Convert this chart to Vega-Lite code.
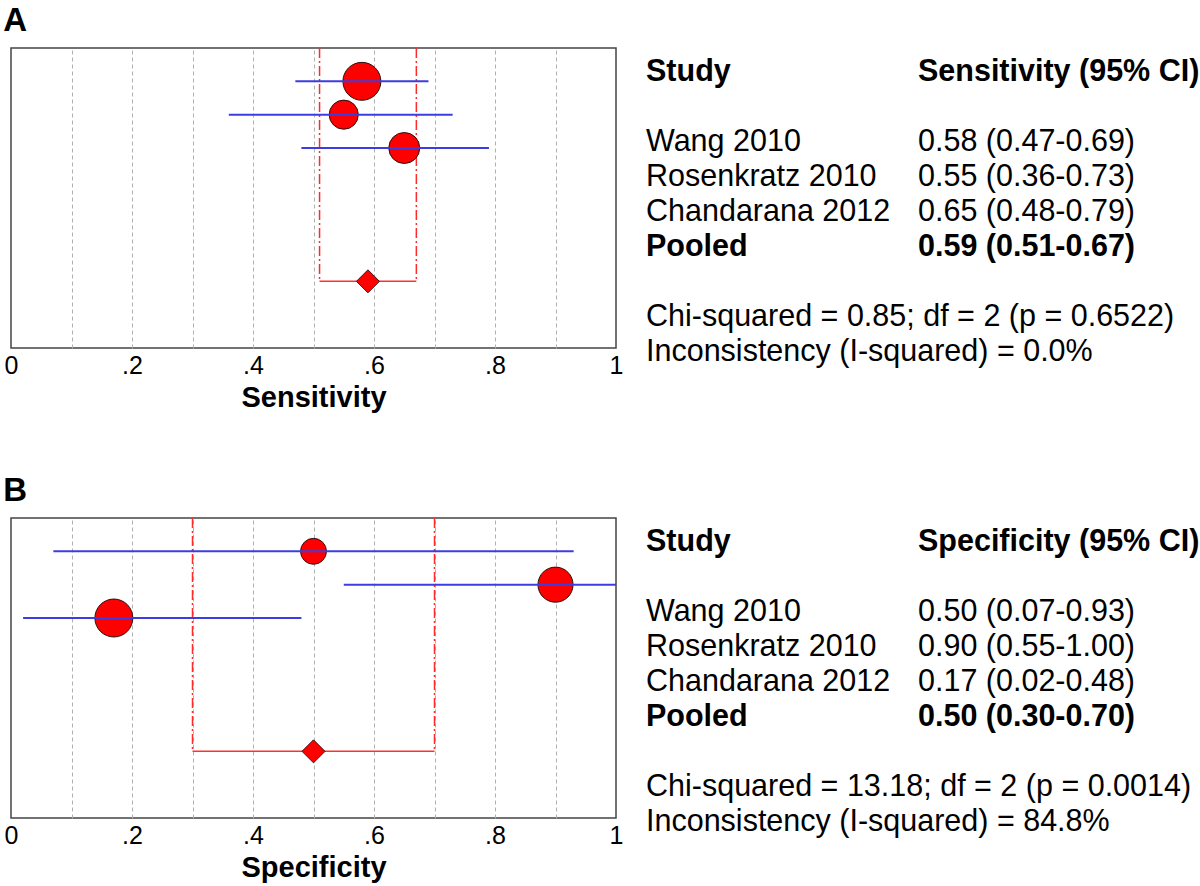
{
  "$schema": "https://vega.github.io/schema/vega-lite/v6.json",
  "background": "white",
  "padding": {"left": 3, "top": 4, "right": 2, "bottom": 1},
  "config": {
    "view": {"stroke": "#444444", "strokeWidth": 1.5},
    "font": "Liberation Sans"
  },
  "datasets": {
    "sens": [
      {"study": "Wang 2010", "row": 1, "est": 0.58, "lo": 0.47, "hi": 0.69, "weight": 90, "kind": "study"},
      {"study": "Rosenkratz 2010", "row": 2, "est": 0.55, "lo": 0.36, "hi": 0.73, "weight": 53, "kind": "study"},
      {"study": "Chandarana 2012", "row": 3, "est": 0.65, "lo": 0.48, "hi": 0.79, "weight": 60, "kind": "study"},
      {"study": "Pooled", "row": 7, "est": 0.59, "lo": 0.51, "hi": 0.67, "weight": null, "kind": "pooled"}
    ],
    "spec": [
      {"study": "Wang 2010", "row": 1, "est": 0.50, "lo": 0.07, "hi": 0.93, "weight": 42, "kind": "study"},
      {"study": "Rosenkratz 2010", "row": 2, "est": 0.90, "lo": 0.55, "hi": 1.00, "weight": 77, "kind": "study"},
      {"study": "Chandarana 2012", "row": 3, "est": 0.17, "lo": 0.02, "hi": 0.48, "weight": 90, "kind": "study"},
      {"study": "Pooled", "row": 7, "est": 0.50, "lo": 0.30, "hi": 0.70, "weight": null, "kind": "pooled"}
    ],
    "sensText": [
      {"row": "h", "col": "name", "label": "Study", "bold": true},
      {"row": "h", "col": "est", "label": "Sensitivity (95% CI)", "bold": true},
      {"row": "s1", "col": "name", "label": "Wang 2010", "bold": false},
      {"row": "s1", "col": "est", "label": "0.58 (0.47-0.69)", "bold": false},
      {"row": "s2", "col": "name", "label": "Rosenkratz 2010", "bold": false},
      {"row": "s2", "col": "est", "label": "0.55 (0.36-0.73)", "bold": false},
      {"row": "s3", "col": "name", "label": "Chandarana 2012", "bold": false},
      {"row": "s3", "col": "est", "label": "0.65 (0.48-0.79)", "bold": false},
      {"row": "p", "col": "name", "label": "Pooled", "bold": true},
      {"row": "p", "col": "est", "label": "0.59 (0.51-0.67)", "bold": true},
      {"row": "c1", "col": "name", "label": "Chi-squared = 0.85; df = 2 (p = 0.6522)", "bold": false},
      {"row": "c2", "col": "name", "label": "Inconsistency (I-squared) = 0.0%", "bold": false}
    ],
    "specText": [
      {"row": "h", "col": "name", "label": "Study", "bold": true},
      {"row": "h", "col": "est", "label": "Specificity (95% CI)", "bold": true},
      {"row": "s1", "col": "name", "label": "Wang 2010", "bold": false},
      {"row": "s1", "col": "est", "label": "0.50 (0.07-0.93)", "bold": false},
      {"row": "s2", "col": "name", "label": "Rosenkratz 2010", "bold": false},
      {"row": "s2", "col": "est", "label": "0.90 (0.55-1.00)", "bold": false},
      {"row": "s3", "col": "name", "label": "Chandarana 2012", "bold": false},
      {"row": "s3", "col": "est", "label": "0.17 (0.02-0.48)", "bold": false},
      {"row": "p", "col": "name", "label": "Pooled", "bold": true},
      {"row": "p", "col": "est", "label": "0.50 (0.30-0.70)", "bold": true},
      {"row": "c1", "col": "name", "label": "Chi-squared = 13.18; df = 2 (p = 0.0014)", "bold": false},
      {"row": "c2", "col": "name", "label": "Inconsistency (I-squared) = 84.8%", "bold": false}
    ]
  },
  "spacing": 61,
  "vconcat": [
    {
      "title": {"text": "A", "anchor": "start", "fontSize": 33, "fontWeight": "bold", "font": "Liberation Sans", "color": "#000000", "offset": 9},
      "spacing": 22,
      "hconcat": [
        {
          "width": 605, "height": 300,
          "data": {"name": "sens"},
          "encoding": {"y": {"field": "row", "type": "quantitative", "scale": {"domain": [0, 9], "reverse": true, "nice": false, "zero": false}, "axis": null}},
          "layer": [
            {
              "transform": [{"filter": "datum.kind == 'pooled'"}, {"fold": ["lo", "hi"], "as": ["bound", "xv"]}],
              "mark": {"type": "rule", "color": "#ff2a2a", "strokeWidth": 1.5, "strokeDash": [10, 3, 2, 3]},
              "encoding": {
                "x": {"field": "xv", "type": "quantitative", "title": "Sensitivity", "scale": {"domain": [0, 1], "nice": false},
                  "axis": {"values": [0, 0.1, 0.2, 0.3, 0.4, 0.5, 0.6, 0.7, 0.8, 0.9, 1], "grid": true, "gridDash": [4, 3], "gridColor": "#b0b0b0", "gridWidth": 1,
                    "gridOpacity": {"condition": {"test": "datum.value < 0.01 || datum.value > 0.99", "value": 0}, "value": 1},
                    "ticks": false, "domain": false, "labelOverlap": false, "labelFlush": false,
                    "labelExpr": "round(datum.value*10) % 2 == 1 ? '' : (datum.value < 0.01 ? '0' : datum.value > 0.99 ? '1' : replace(format(datum.value, '.1f'), '0.', '.'))",
                    "labelFontSize": 25, "labelColor": "#000000", "labelPadding": 5, "labelFont": "Liberation Sans",
                    "titleFontSize": 29, "titleFontWeight": "bold", "titleColor": "#000000", "titlePadding": 5, "titleFont": "Liberation Sans"}},
                "y": {"datum": 0},
                "y2": {"field": "row"}
              }
            },
            {
              "transform": [{"filter": "datum.kind == 'pooled'"}],
              "mark": {"type": "rule", "color": "#ff3030", "strokeWidth": 1.5},
              "encoding": {"x": {"field": "lo", "type": "quantitative", "title": "Sensitivity"}, "x2": {"field": "hi"}}
            },
            {
              "transform": [{"filter": "datum.kind == 'study'"}],
              "mark": {"type": "point", "shape": "circle", "filled": true, "fill": "#ff0000", "stroke": "#2a1010", "strokeWidth": 1, "opacity": 1},
              "encoding": {
                "x": {"field": "est", "type": "quantitative", "title": "Sensitivity"},
                "size": {"field": "weight", "type": "quantitative", "scale": {"domain": [0, 100], "range": [0, 1600], "zero": true}, "legend": null}
              }
            },
            {
              "transform": [{"filter": "datum.kind == 'study'"}],
              "mark": {"type": "rule", "color": "#3c3ce0", "strokeWidth": 2},
              "encoding": {"x": {"field": "lo", "type": "quantitative", "title": "Sensitivity"}, "x2": {"field": "hi"}}
            },
            {
              "transform": [{"filter": "datum.kind == 'pooled'"}],
              "mark": {"type": "point", "shape": "diamond", "filled": true, "fill": "#ff0000", "stroke": "#4a1010", "strokeWidth": 1, "opacity": 1, "size": 530},
              "encoding": {"x": {"field": "est", "type": "quantitative", "title": "Sensitivity"}}
            }
          ]
        },
        {
          "width": 272, "height": 328,
          "view": {"stroke": null},
          "data": {"name": "sensText"},
          "encoding": {
            "x": {"field": "col", "type": "nominal", "scale": {"type": "point", "domain": ["name", "est"], "padding": 0}, "axis": null},
            "y": {"field": "row", "type": "nominal", "scale": {"type": "point", "domain": ["h", "b1", "s1", "s2", "s3", "p", "b2", "c1", "c2"], "padding": 0.7}, "axis": null},
            "text": {"field": "label", "type": "nominal"}
          },
          "layer": [
            {"transform": [{"filter": "!datum.bold"}], "mark": {"type": "text", "align": "left", "baseline": "middle", "fontSize": 30.5, "color": "#000000", "font": "Liberation Sans"}},
            {"transform": [{"filter": "datum.bold"}], "mark": {"type": "text", "align": "left", "baseline": "middle", "fontSize": 30.5, "fontWeight": "bold", "color": "#000000", "font": "Liberation Sans"}}
          ]
        }
      ]
    },
    {
      "title": {"text": "B", "anchor": "start", "fontSize": 33, "fontWeight": "bold", "font": "Liberation Sans", "color": "#000000", "offset": 9},
      "spacing": 22,
      "hconcat": [
        {
          "width": 605, "height": 300,
          "data": {"name": "spec"},
          "encoding": {"y": {"field": "row", "type": "quantitative", "scale": {"domain": [0, 9], "reverse": true, "nice": false, "zero": false}, "axis": null}},
          "layer": [
            {
              "transform": [{"filter": "datum.kind == 'pooled'"}, {"fold": ["lo", "hi"], "as": ["bound", "xv"]}],
              "mark": {"type": "rule", "color": "#ff2a2a", "strokeWidth": 1.5, "strokeDash": [10, 3, 2, 3]},
              "encoding": {
                "x": {"field": "xv", "type": "quantitative", "title": "Specificity", "scale": {"domain": [0, 1], "nice": false},
                  "axis": {"values": [0, 0.1, 0.2, 0.3, 0.4, 0.5, 0.6, 0.7, 0.8, 0.9, 1], "grid": true, "gridDash": [4, 3], "gridColor": "#b0b0b0", "gridWidth": 1,
                    "gridOpacity": {"condition": {"test": "datum.value < 0.01 || datum.value > 0.99", "value": 0}, "value": 1},
                    "ticks": false, "domain": false, "labelOverlap": false, "labelFlush": false,
                    "labelExpr": "round(datum.value*10) % 2 == 1 ? '' : (datum.value < 0.01 ? '0' : datum.value > 0.99 ? '1' : replace(format(datum.value, '.1f'), '0.', '.'))",
                    "labelFontSize": 25, "labelColor": "#000000", "labelPadding": 5, "labelFont": "Liberation Sans",
                    "titleFontSize": 29, "titleFontWeight": "bold", "titleColor": "#000000", "titlePadding": 5, "titleFont": "Liberation Sans"}},
                "y": {"datum": 0},
                "y2": {"field": "row"}
              }
            },
            {
              "transform": [{"filter": "datum.kind == 'pooled'"}],
              "mark": {"type": "rule", "color": "#ff3030", "strokeWidth": 1.5},
              "encoding": {"x": {"field": "lo", "type": "quantitative", "title": "Specificity"}, "x2": {"field": "hi"}}
            },
            {
              "transform": [{"filter": "datum.kind == 'study'"}],
              "mark": {"type": "point", "shape": "circle", "filled": true, "fill": "#ff0000", "stroke": "#2a1010", "strokeWidth": 1, "opacity": 1},
              "encoding": {
                "x": {"field": "est", "type": "quantitative", "title": "Specificity"},
                "size": {"field": "weight", "type": "quantitative", "scale": {"domain": [0, 100], "range": [0, 1600], "zero": true}, "legend": null}
              }
            },
            {
              "transform": [{"filter": "datum.kind == 'study'"}],
              "mark": {"type": "rule", "color": "#3c3ce0", "strokeWidth": 2},
              "encoding": {"x": {"field": "lo", "type": "quantitative", "title": "Specificity"}, "x2": {"field": "hi"}}
            },
            {
              "transform": [{"filter": "datum.kind == 'pooled'"}],
              "mark": {"type": "point", "shape": "diamond", "filled": true, "fill": "#ff0000", "stroke": "#4a1010", "strokeWidth": 1, "opacity": 1, "size": 530},
              "encoding": {"x": {"field": "est", "type": "quantitative", "title": "Specificity"}}
            }
          ]
        },
        {
          "width": 272, "height": 328,
          "view": {"stroke": null},
          "data": {"name": "specText"},
          "encoding": {
            "x": {"field": "col", "type": "nominal", "scale": {"type": "point", "domain": ["name", "est"], "padding": 0}, "axis": null},
            "y": {"field": "row", "type": "nominal", "scale": {"type": "point", "domain": ["h", "b1", "s1", "s2", "s3", "p", "b2", "c1", "c2"], "padding": 0.7}, "axis": null},
            "text": {"field": "label", "type": "nominal"}
          },
          "layer": [
            {"transform": [{"filter": "!datum.bold"}], "mark": {"type": "text", "align": "left", "baseline": "middle", "fontSize": 30.5, "color": "#000000", "font": "Liberation Sans"}},
            {"transform": [{"filter": "datum.bold"}], "mark": {"type": "text", "align": "left", "baseline": "middle", "fontSize": 30.5, "fontWeight": "bold", "color": "#000000", "font": "Liberation Sans"}}
          ]
        }
      ]
    }
  ]
}
